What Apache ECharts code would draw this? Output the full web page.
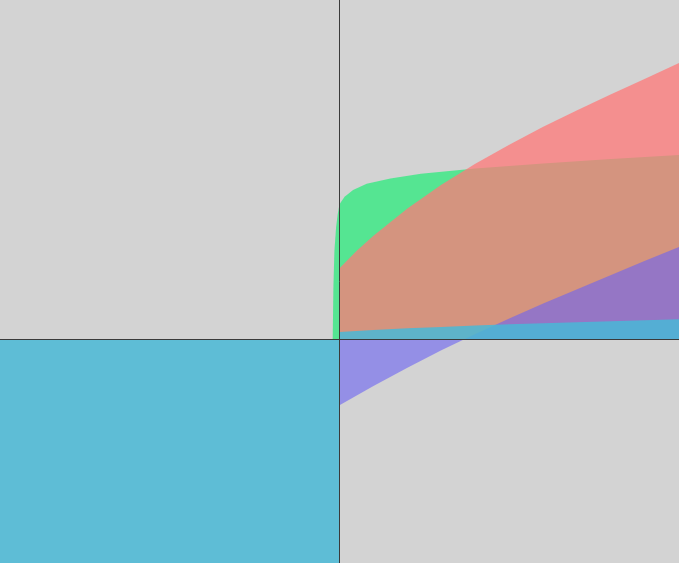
<!DOCTYPE html>
<html>
<head>
<meta charset="utf-8">
<script src="https://cdn.jsdelivr.net/npm/echarts@6/dist/echarts.min.js"></script>
<style>
html,body{margin:0;padding:0;background:#d3d3d3;}
#chart{width:679px;height:563px;}
</style>
</head>
<body>
<div id="chart"></div>
<script>
// x positions and series values
const greenX = [-0.2, -0.18, -0.15, -0.1, -0.05, 0, 0.15, 0.4, 0.8, 1.5, 2.4, 4, 6, 8, 10];
const greenY = [0, 1.5, 2.6, 3.3, 3.7, 3.98, 4.2, 4.4, 4.58, 4.74, 4.88, 5.03, 5.18, 5.31, 5.43];

const redX = [0, 0.5, 1, 2, 3, 4, 5, 6, 7, 8, 9, 10];
const redY = [2.09, 2.60, 3.05, 3.85, 4.55, 5.17, 5.73, 6.26, 6.75, 7.22, 7.68, 8.14];

const purpleX = [0, 1, 2, 3, 4, 5, 6, 7, 8, 9, 10];
const purpleY = [-1.95, -1.38, -0.84, -0.33, 0.15, 0.61, 1.05, 1.47, 1.89, 2.31, 2.72];

const cyanX = [-10, 0, 0, 1, 2, 3, 4, 5, 6, 7, 8, 9, 10];
const cyanY = [-7, -7, 0.21, 0.27, 0.32, 0.36, 0.40, 0.44, 0.47, 0.50, 0.53, 0.56, 0.59];

const xRange = [-10, 10];
const yRange = [-6.6, 10];

function pairs(xs, ys){ return xs.map((x,i)=>[x, ys[i]]); }

function areaSeries(name, xs, ys, color, z){
  return {
    name: name, type: 'line', data: pairs(xs, ys),
    showSymbol: false, symbol: 'none', z: z,
    lineStyle: {width: 0},
    areaStyle: {color: color, opacity: 1},
    silent: true, animation: false
  };
}

const chart = echarts.init(document.getElementById('chart'));
chart.setOption({
  backgroundColor: '#d3d3d3',
  animation: false,
  grid: {left: 0, right: 0, top: 0, bottom: 0},
  xAxis: {
    type: 'value', min: xRange[0], max: xRange[1], z: 10,
    axisLine: {show: true, onZero: true, lineStyle: {color: '#3a3a3a', width: 1}},
    axisTick: {show: false}, axisLabel: {show: false}, splitLine: {show: false}
  },
  yAxis: {
    type: 'value', min: yRange[0], max: yRange[1], z: 10,
    axisLine: {show: true, onZero: true, lineStyle: {color: '#3a3a3a', width: 1}},
    axisTick: {show: false}, axisLabel: {show: false}, splitLine: {show: false}
  },
  series: [
    areaSeries('green', greenX, greenY, 'rgba(31,237,118,0.7)', 2),
    areaSeries('red', redX, redY, 'rgba(255,120,120,0.75)', 3),
    areaSeries('purple', purpleX, purpleY, 'rgba(106,99,243,0.6)', 4),
    areaSeries('cyan', cyanX, cyanY, 'rgba(73,184,214,0.85)', 5)
  ]
});
</script>
</body>
</html>
